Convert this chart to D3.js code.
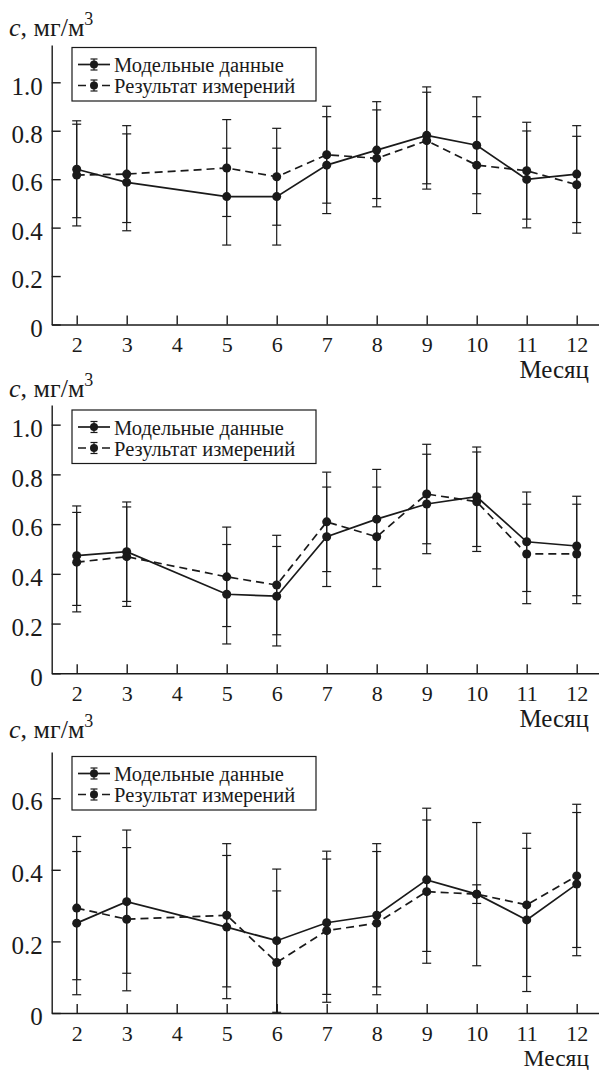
<!DOCTYPE html>
<html>
<head>
<meta charset="utf-8">
<script src="https://cdn.jsdelivr.net/npm/d3@7"></script>
<style>
  body { margin: 0; background: #fff; }
  svg { display: block; }
  svg text { font-family: "Liberation Serif", "DejaVu Serif", "Times New Roman", Times, serif !important; }
</style>
</head>
<body>
<svg id="chart" width="599" height="1070"></svg>
<script>
// months on the x axis (no April data)
const months = [2, 3, 5, 6, 7, 8, 9, 10, 11, 12];
const xTicks = [2, 3, 4, 5, 6, 7, 8, 9, 10, 11, 12];

// panel 1
const model1 = [0.641, 0.587, 0.528, 0.528, 0.658, 0.72, 0.781, 0.74, 0.599, 0.621];
const modelErr1 = [0.2, 0.2, 0.2, 0.2, 0.2, 0.2, 0.2, 0.2, 0.2, 0.2];
const meas1 = [0.617, 0.621, 0.646, 0.61, 0.701, 0.686, 0.759, 0.658, 0.635, 0.577];
const measErr1 = [0.21, 0.2, 0.2, 0.2, 0.2, 0.2, 0.2, 0.2, 0.2, 0.2];

// panel 2
const model2 = [0.473, 0.489, 0.318, 0.31, 0.549, 0.62, 0.681, 0.71, 0.529, 0.512];
const modelErr2 = [0.2, 0.2, 0.2, 0.2, 0.2, 0.2, 0.2, 0.2, 0.2, 0.2];
const meas2 = [0.447, 0.469, 0.388, 0.355, 0.609, 0.549, 0.721, 0.69, 0.48, 0.48];
const measErr2 = [0.2, 0.2, 0.2, 0.2, 0.2, 0.2, 0.2, 0.2, 0.2, 0.2];

// panel 3
const model3 = [0.251, 0.311, 0.24, 0.202, 0.252, 0.273, 0.372, 0.332, 0.26, 0.36];
const modelErr3 = [0.2, 0.2, 0.2, 0.2, 0.2, 0.2, 0.2, 0.2, 0.2, 0.2];
const meas3 = [0.293, 0.262, 0.273, 0.141, 0.23, 0.251, 0.339, 0.332, 0.302, 0.383];
const measErr3 = [0.2, 0.2, 0.2, 0.2, 0.2, 0.2, 0.2, 0.026, 0.2, 0.2];

const yTicks12 = [0, 0.2, 0.4, 0.6, 0.8, 1.0];
const yTicks3 = [0, 0.2, 0.4, 0.6];

const legendLabels = ['Модельные данные', 'Результат измерений'];
const xLabel = 'Месяц';

const panels = [
  { top: 45, bottom: 324.5, yMax: 1.154, ticks: yTicks12, model: model1, modelErr: modelErr1, meas: meas1, measErr: measErr1, labelY: 36.3, legendTop: 47.5, xLabelY: 378, xLabelSize: 25 },
  { top: 405, bottom: 673.3, yMax: 1.079, ticks: yTicks12, model: model2, modelErr: modelErr2, meas: meas2, measErr: measErr2, labelY: 397.3, legendTop: 410, xLabelY: 727, xLabelSize: 25 },
  { top: 752, bottom: 1013, yMax: 0.729, ticks: yTicks3, model: model3, modelErr: modelErr3, meas: meas3, measErr: measErr3, labelY: 737.6, legendTop: 756.5, xLabelY: 1065.5, xLabelSize: 23.5 }
];

const svg = d3.select('#chart');
const ink = '#1a1a1a';

const x = d3.scaleLinear().domain([1.5, 12.46]).range([51.7, 599.7]);
const yFmt = v => (v === 0 ? '0' : d3.format('.1f')(v));

panels.forEach(p => {
  const g = svg.append('g');
  const y = d3.scaleLinear().domain([0, p.yMax]).range([p.bottom, p.top]);

  // axes, ticks pointing inside
  const xAxis = g.append('g')
    .attr('transform', `translate(0,${p.bottom})`)
    .call(d3.axisBottom(x).tickValues(xTicks).tickSizeInner(-9).tickSizeOuter(0).tickPadding(12));
  xAxis.attr('font-size', 22);

  const yAxis = g.append('g')
    .attr('transform', `translate(${x(1.5)},0)`)
    .call(d3.axisLeft(y).tickValues(p.ticks).tickFormat(yFmt).tickSizeInner(-9).tickSizeOuter(0).tickPadding(9));
  yAxis.attr('font-size', 25);
  yAxis.selectAll('text').attr('dy', '0.47em');

  g.selectAll('.domain, .tick line').attr('stroke', ink).attr('stroke-width', 1.4);
  g.selectAll('.tick text').attr('fill', ink);

  // axis captions
  const yl = g.append('text').attr('x', 9).attr('y', p.labelY).attr('font-size', 26).attr('fill', ink);
  yl.append('tspan').attr('font-style', 'italic').text('c');
  yl.append('tspan').text(', мг/м');
  yl.append('tspan').attr('dy', -11).attr('font-size', 18).text('3');

  g.append('text')
    .attr('x', 589).attr('y', p.xLabelY)
    .attr('text-anchor', 'end')
    .attr('font-size', p.xLabelSize)
    .attr('fill', ink)
    .text(xLabel);

  const series = [
    { vals: p.model, err: p.modelErr, dash: null },
    { vals: p.meas, err: p.measErr, dash: '8,5' }
  ];

  // error bars
  series.forEach(s => {
    const eb = g.append('g').attr('stroke', ink).attr('stroke-width', 1.2);
    months.forEach((m, i) => {
      const lo = s.vals[i] - s.err[i];
      const hi = s.vals[i] + s.err[i];
      eb.append('line')
        .attr('x1', x(m)).attr('x2', x(m))
        .attr('y1', y(Math.max(lo, 0))).attr('y2', y(hi));
      [lo, hi].filter(v => v >= 0).forEach(v => {
        eb.append('line')
          .attr('x1', x(m) - 4.5).attr('x2', x(m) + 4.5)
          .attr('y1', y(v)).attr('y2', y(v));
      });
    });
  });

  // lines and points
  const line = d3.line().x((d, i) => x(months[i])).y(d => y(d));
  series.forEach(s => {
    g.append('path')
      .datum(s.vals)
      .attr('d', line)
      .attr('fill', 'none')
      .attr('stroke', ink)
      .attr('stroke-width', 1.7)
      .attr('stroke-dasharray', s.dash);
    g.append('g').selectAll('circle')
      .data(s.vals)
      .join('circle')
      .attr('cx', (d, i) => x(months[i]))
      .attr('cy', d => y(d))
      .attr('r', 4.5)
      .attr('fill', ink);
  });

  // legend
  const lg = g.append('g').attr('transform', `translate(72,${p.legendTop})`);
  lg.append('rect')
    .attr('width', 244).attr('height', 53.5)
    .attr('fill', '#fff').attr('stroke', ink).attr('stroke-width', 1.2);
  legendLabels.forEach((lab, i) => {
    const cy = 17 + i * 21;
    const row = lg.append('g').attr('transform', `translate(0,${cy})`);
    row.append('line')
      .attr('x1', 6).attr('x2', 38)
      .attr('stroke', ink).attr('stroke-width', 1.7)
      .attr('stroke-dasharray', i === 0 ? null : '8,16');
    row.append('line').attr('x1', 22).attr('x2', 22).attr('y1', -5.5).attr('y2', 5.5)
      .attr('stroke', ink).attr('stroke-width', 1.2);
    [-5.5, 5.5].forEach(dy => {
      row.append('line').attr('x1', 18.5).attr('x2', 25.5).attr('y1', dy).attr('y2', dy)
        .attr('stroke', ink).attr('stroke-width', 1.2);
    });
    row.append('circle').attr('cx', 22).attr('r', 4).attr('fill', ink);
    row.append('text')
      .attr('x', 42).attr('y', 7.5)
      .attr('font-size', 20.5)
      .attr('fill', ink)
      .text(lab);
  });
});
</script>
</body>
</html>
